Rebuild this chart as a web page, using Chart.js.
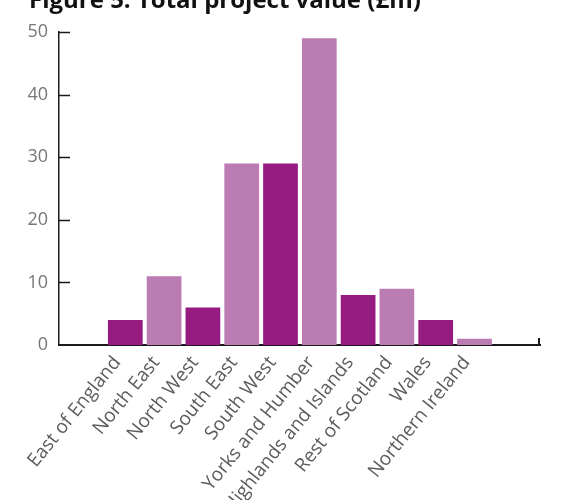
<!DOCTYPE html>
<html>
<head>
<meta charset="utf-8">
<script src="https://cdn.jsdelivr.net/npm/chart.js@4"></script>
<style>
    html, body { margin: 0; padding: 0; background: #fff; }
    #wrap { width: 563px; height: 500px; position: relative; }
</style>
</head>
<body>
<div id="wrap"><canvas id="chart"></canvas></div>
<script>
// =========================
// DATOS
// =========================
const title = "Figure 5: Total project value (£m)";
const regions = ["East of England", "North East", "North West", "South East", "South West",
    "Yorks and Humber", "Highlands and Islands", "Rest of Scotland", "Wales", "Northern Ireland"];
const values = [4, 11, 6, 29, 29, 49, 8, 9, 4, 1];
const yTicks = [0, 10, 20, 30, 40, 50];

const dark = "#951b81";
const light = "#bb7bb3";

// =========================
// PLUGINS
// =========================
const extras = {
    id: "extras",
    afterDraw(chart) {
        const ctx = chart.ctx;
        const area = chart.chartArea;
        const y = chart.scales.y;

        ctx.save();
        // ticks hacia dentro en el eje y
        ctx.strokeStyle = "#1a1a1a";
        ctx.lineWidth = 1.5;
        yTicks.forEach(v => {
            if (v === 0) return;
            const py = Math.round(y.getPixelForValue(v)) + 0.5;
            ctx.beginPath();
            ctx.moveTo(area.left, py);
            ctx.lineTo(area.left + 11, py);
            ctx.stroke();
        });
        // tick final del eje x
        ctx.lineWidth = 2;
        ctx.beginPath();
        ctx.moveTo(area.right - 1, area.bottom);
        ctx.lineTo(area.right - 1, area.bottom - 7);
        ctx.stroke();

        // titulo (cortado arriba)
        ctx.fillStyle = "#111";
        ctx.font = "bold 24px 'Open Sans'";
        ctx.textAlign = "left";
        ctx.textBaseline = "alphabetic";
        ctx.fillText(title, 29, 8);
        ctx.restore();
    }
};

// =========================
// CHART
// =========================
const pitch = 38.8;
const xMin = -(125.3 - 59) / pitch;
const xMax = 9 + (540 - 474.5) / pitch;

new Chart(document.getElementById("chart"), {
    type: "bar",
    data: {
        datasets: [{
            data: values.map((v, i) => ({ x: i, y: v })),
            backgroundColor: values.map((_, i) => i % 2 === 0 ? dark : light),
            borderWidth: 0,
            barPercentage: 0.895,
            categoryPercentage: 1
        }]
    },
    options: {
        responsive: true,
        maintainAspectRatio: false,
        animation: false,
        layout: { padding: { top: 32, right: 23, left: 0, bottom: 0 } },
        plugins: {
            legend: { display: false },
            tooltip: { enabled: false }
        },
        scales: {
            x: {
                type: "linear",
                offset: false,
                min: xMin,
                max: xMax,
                afterBuildTicks: scale => {
                    scale.ticks = regions.map((_, i) => ({ value: i }));
                },
                afterFit: scale => { scale.height = 155; },
                grid: { display: false, drawTicks: false, offset: false },
                border: { display: true, color: "#1a1a1a", width: 2 },
                ticks: {
                    autoSkip: false,
                    minRotation: 51,
                    maxRotation: 51,
                    padding: 7,
                    labelOffset: -8,
                    color: "#5e5a60",
                    font: { family: "'Open Sans'", size: 19 },
                    callback: v => regions[v]
                }
            },
            y: {
                min: 0,
                max: 50,
                afterBuildTicks: scale => {
                    scale.ticks = yTicks.map(v => ({ value: v }));
                },
                afterFit: scale => { scale.width = 59; },
                grid: { display: false, drawTicks: false },
                border: { display: true, color: "#1a1a1a", width: 1.5 },
                ticks: {
                    padding: 11,
                    color: "#777",
                    font: { family: "'Open Sans'", size: 18 }
                }
            }
        }
    },
    plugins: [extras]
});
</script>
</body>
</html>
